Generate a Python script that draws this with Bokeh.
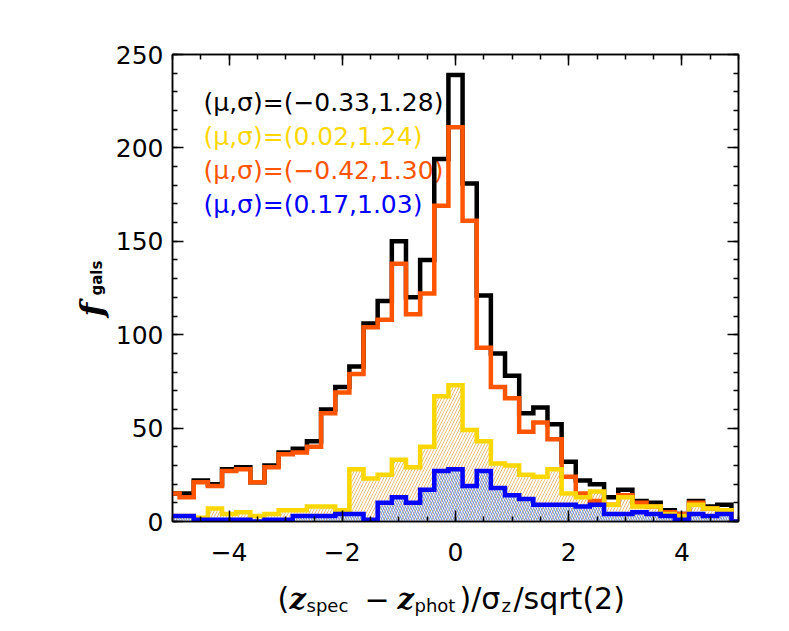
import numpy as np
from math import pi
from bokeh.plotting import figure
from bokeh.layouts import row, column
from bokeh.models import Range1d, LinearAxis, SingleIntervalTicker, ColumnDataSource
from bokeh.embed import file_html
from bokeh.resources import INLINE
from bokeh.core.properties import value

# ---------------- data ----------------
bin_centers = [-5.0, -4.75, -4.5, -4.25, -4.0, -3.75, -3.5, -3.25, -3.0, -2.75,
               -2.5, -2.25, -2.0, -1.75, -1.5, -1.25, -1.0, -0.75, -0.5, -0.25,
               0.0, 0.25, 0.5, 0.75, 1.0, 1.25, 1.5, 1.75, 2.0, 2.25,
               2.5, 2.75, 3.0, 3.25, 3.5, 3.75, 4.0, 4.25, 4.5, 4.75, 5.0]
bin_width = 0.25

counts_all = [15, 15, 22, 20, 28, 29, 21, 30, 37, 39,
              43, 60, 72, 83, 106, 118, 150, 120, 140, 194,
              239, 181, 121, 90, 78, 58, 61, 52, 32, 22,
              20, 13, 17, 11, 10, 6, 4, 11, 8, 9, 0]
counts_orange = [15, 13, 21, 19, 27, 28, 21, 29, 36, 37,
                 40, 58, 69, 79, 104, 108, 138, 111, 122, 169,
                 211, 161, 93, 72, 66, 48, 53, 44, 24, 15,
                 11, 9, 14, 10, 8, 5, 4, 10, 7, 6, 0]
counts_yellow = [3, 3, 2, 7, 4, 5, 3, 4, 6, 6,
                 8, 8, 6, 28, 23, 25, 33, 29, 40, 67,
                 73, 49, 43, 31, 30, 25, 24, 28, 15, 13,
                 16, 9, 13, 8, 8, 4, 3, 9, 7, 6, 0]
counts_blue = [3, 3, 1, 1, 1, 1, 0, 1, 1, 3,
               3, 3, 4, 4, 1, 10, 13, 10, 17, 27,
               28, 19, 27, 18, 14, 12, 9, 9, 9, 8,
               9, 4, 4, 5, 4, 3, 1, 4, 3, 4, 0]

stat_labels = ["(\u03bc,\u03c3)=(\u22120.33,1.28)",
               "(\u03bc,\u03c3)=(0.02,1.24)",
               "(\u03bc,\u03c3)=(\u22120.42,1.30)",
               "(\u03bc,\u03c3)=(0.17,1.03)"]

x_ticks = [-4, -2, 0, 2, 4]
x_tick_labels = ["\u22124", "\u22122", "0", "2", "4"]
y_ticks = [0, 50, 100, 150, 200, 250]

BLACK = "#000000"
GOLD = "#FFD700"
ORANGE = "#FF5500"
BLUE = "#0000FF"
series_colors = [BLACK, GOLD, ORANGE, BLUE]

XMIN, XMAX = -5.0, 5.0
YMIN, YMAX = 0.0, 250.0

# ---------------- geometry (page pixels) ----------------
LEFT_W = 110            # width of the y-title strip
FW, FH = 566, 467       # plot frame
BL, BR, BT, BB = 62, 45, 54, 54
MAIN_W = BL + FW + BR
MAIN_H = BT + FH + BB   # 575
BOT_H = 50
FRAME_X0 = LEFT_W + BL  # 172

# ---------------- main figure ----------------
p = figure(frame_width=FW, frame_height=FH,
           min_border_left=BL, min_border_right=BR,
           min_border_top=BT, min_border_bottom=BB,
           x_range=Range1d(XMIN, XMAX), y_range=Range1d(YMIN, YMAX),
           output_backend="svg", toolbar_location=None,
           x_axis_location=None, y_axis_location=None)
p.xgrid.visible = False
p.ygrid.visible = False
p.outline_line_color = BLACK
p.outline_line_width = 1.5
p.background_fill_color = "white"
p.border_fill_color = "white"


def make_axis(interval, minor, ticks, show_labels):
    ax = LinearAxis(ticker=SingleIntervalTicker(interval=interval, num_minor_ticks=minor))
    ax.axis_line_width = 1.5
    ax.major_tick_line_width = 1.5
    ax.minor_tick_line_width = 1.5
    ax.major_tick_in = 11
    ax.major_tick_out = 0
    ax.minor_tick_in = 5
    ax.minor_tick_out = 0
    if show_labels:
        ax.major_label_text_font = "DejaVu Sans"
        ax.major_label_text_font_size = "25px"
        ax.major_label_text_color = BLACK
    else:
        ax.major_label_overrides = {t: "" for t in ticks}
        ax.major_label_text_font_size = "1px"
        ax.major_label_standoff = 0
    return ax


xb = make_axis(2, 4, x_ticks, True)
xb.major_label_standoff = 21
xb.major_label_overrides = {t: s for t, s in zip(x_ticks, x_tick_labels)}
p.add_layout(xb, "below")
p.add_layout(make_axis(2, 4, x_ticks, False), "above")
yl = make_axis(50, 5, y_ticks, True)
yl.major_label_standoff = 9
p.add_layout(yl, "left")
p.add_layout(make_axis(50, 5, y_ticks, False), "right")

# hatched fills
xc = np.array(bin_centers)
left = np.clip(xc - bin_width / 2, XMIN, XMAX)
right = np.clip(xc + bin_width / 2, XMIN, XMAX)
src = ColumnDataSource(dict(x=xc, left=left, right=right,
                            all=counts_all, orange=counts_orange,
                            yellow=counts_yellow, blue=counts_blue))

p.quad(left="left", right="right", bottom=0, top="yellow", source=src,
       fill_color=None, line_color=None,
       hatch_pattern="/", hatch_color="#EBB46A", hatch_scale=6, hatch_weight=0.9)
p.quad(left="left", right="right", bottom=0, top="blue", source=src,
       fill_color=None, line_color=None,
       hatch_pattern="\\", hatch_color="#4A7CEE", hatch_scale=5, hatch_weight=0.9)


# stat texts (under the lines)
def px2x(px):
    return (px - FRAME_X0) / (FW / (XMAX - XMIN)) + XMIN


def py2y(py):
    return (BT + FH - py) / (FH / (YMAX - YMIN))


txt_src = ColumnDataSource(dict(
    x=[px2x(203)] * 4,
    y=[py2y(102), py2y(136), py2y(170), py2y(204)],
    text=stat_labels, color=series_colors))
p.text(x="x", y="y", text="text", text_color="color", source=txt_src,
       text_font=value("DejaVu Sans"), text_font_size="25px",
       text_baseline="middle", text_align="left")

# step lines
LW = 4.5
for col, c in [("all", BLACK), ("orange", ORANGE), ("yellow", GOLD), ("blue", BLUE)]:
    p.step(x="x", y=col, source=src, mode="center", line_color=c,
           line_width=LW, line_join="miter")


def strip(w, h, xr, yr, bl=0, br=0, bt=0, bb=0):
    f = figure(width=w, height=h, x_range=Range1d(*xr), y_range=Range1d(*yr),
               min_border_left=bl, min_border_right=br,
               min_border_top=bt, min_border_bottom=bb,
               output_backend="svg", toolbar_location=None,
               x_axis_location=None, y_axis_location=None)
    f.xgrid.visible = False
    f.ygrid.visible = False
    f.outline_line_color = None
    f.background_fill_color = "white"
    f.border_fill_color = "white"
    return f


def put(f, x, y, text, size, font="DejaVu Sans", style="normal", angle=0.0):
    f.text(x=[x], y=[y], text=[text], angle=angle,
           text_font=value(font), text_font_style=style,
           text_font_size=size, text_color=BLACK,
           text_align="left", text_baseline="alphabetic")


# ---------------- y title strip: f_gals (coords: x = page px, y = MAIN_H - page py)
ly = strip(LEFT_W, MAIN_H, (0, LEFT_W), (MAIN_H - (BT + FH), MAIN_H - BT),
           bt=BT, bb=BB)
put(ly, 91, MAIN_H - 316, "f", "32px", font="DejaVu Serif", style="bold italic", angle=pi / 2)
put(ly, 96, MAIN_H - 295, "gals", "15px", style="bold", angle=pi / 2)

# ---------------- x title strip (coords: x = page px, y = TOP - page py)
TOP = MAIN_H + BOT_H
bx = strip(MAIN_W, BOT_H, (FRAME_X0, FRAME_X0 + FW), (0, BOT_H), bl=BL, br=BR)


def putx(px, py, text, size, **kw):
    put(bx, px, TOP - py, text, size, **kw)


BASE = 598
SUB = 605
putx(277, BASE, "(", "30px")
putx(289, BASE, "z", "29px", font="DejaVu Serif", style="bold italic")
putx(306, SUB, "spec", "18px")
putx(364, BASE, "\u2212", "30px")
putx(397, BASE, "z", "29px", font="DejaVu Serif", style="bold italic")
putx(414, SUB, "phot", "18px")
putx(459, BASE, ")/\u03c3", "30px")
putx(501, SUB, "z", "18px")
putx(513, BASE, "/sqrt(2)", "30px")

layout = row(ly, column(p, bx, spacing=0), spacing=0)

open("out.html", "w").write(file_html(layout, INLINE))
